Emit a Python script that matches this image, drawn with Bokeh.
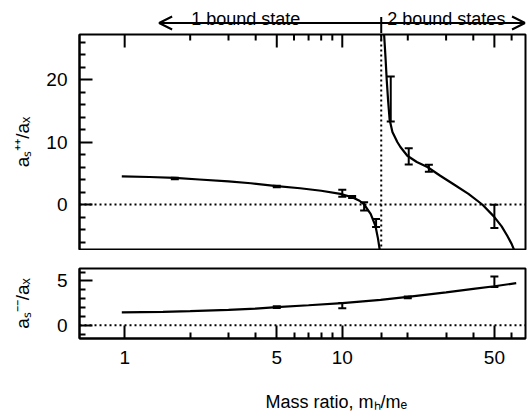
from bokeh.plotting import figure
from bokeh.models import (ColumnDataSource, Whisker, TeeHead, Span, Label, Arrow,
                          OpenHead, FixedTicker, Range1d)
from bokeh.layouts import column
from bokeh.embed import file_html
from bokeh.resources import INLINE

# ---------------- data ----------------
crit_ratio = 15.1   # mass ratio where the second bound state appears

# upper panel a_s^{++}/a_x : theory curve, two branches
pp_low_x = [0.97, 1.3, 1.7, 2.2, 3.0, 3.8, 5.0, 6.4, 8.0, 9.8, 11.1, 12.0, 12.6, 13.5, 14.2, 14.6, 14.9]
pp_low_y = [4.5, 4.4, 4.25, 4.0, 3.7, 3.4, 2.95, 2.6, 2.2, 1.7, 1.17, 0.6, 0.0, -1.5, -3.4, -5.5, -7.5]
pp_high_x = [15.55, 15.8, 16.0, 16.25, 16.5, 17.0, 17.9, 18.5, 19.9, 22.0, 24.6, 28.2, 32.6, 38.0, 44.0, 49.7, 54.0, 57.3, 60.0, 62.0]
pp_high_y = [27.5, 23.5, 20.0, 16.5, 13.6, 11.6, 10.0, 9.2, 7.8, 6.8, 6.0, 4.6, 3.2, 1.7, 0.0, -1.9, -3.5, -5.0, -6.3, -7.5]
# upper panel measured points with error bars
pp_x = [1.7, 5.0, 10.0, 11.1, 12.6, 14.3, 16.7, 20.2, 25.0, 50.0]
pp_y = [4.15, 2.9, 1.8, 1.2, -0.3, -2.95, 16.9, 7.7, 5.8, -1.9]
pp_err = [0.12, 0.12, 0.55, 0.15, 0.65, 0.65, 3.6, 1.3, 0.55, 1.85]

# lower panel a_s^{--}/a_x
mm_curve_x = [0.97, 1.5, 2.0, 3.0, 4.0, 5.0, 7.0, 10.0, 15.0, 20.0, 30.0, 40.0, 50.0, 63.0]
mm_curve_y = [1.45, 1.5, 1.58, 1.72, 1.88, 2.05, 2.25, 2.5, 2.85, 3.2, 3.7, 4.1, 4.4, 4.75]
mm_x = [5.0, 10.0, 20.0, 50.0]
mm_y = [2.05, 2.2, 3.15, 4.9]
mm_err = [0.1, 0.3, 0.1, 0.6]

x_major = [1, 5, 10, 50]
x_minor = [2, 3, 4, 6, 7, 8, 9, crit_ratio, 20, 30, 40, 60]
pp_major = [0, 10, 20]
pp_minor = [-6, -4, -2, 2, 4, 6, 8, 12, 14, 16, 18, 22, 24, 26]
mm_major = [0, 5]
mm_minor = [-1, 1, 2, 3, 4, 6]

# ---------------- styling / layout ----------------
FONT = "Liberation Sans"
XR = (0.62, 69.5)
W = 532
PP_YR = (-7.2, 27.2)
PP_PX_PER_UNIT = 215 / (PP_YR[1] - PP_YR[0])
MAJOR_LEN, MINOR_LEN = 13, 6

shared_x = Range1d(*XR)


def style(p):
    p.grid.visible = False
    p.outline_line_color = "black"
    p.outline_line_width = 2
    p.background_fill_color = "white"
    p.border_fill_color = "white"
    for ax in p.axis:
        ax.axis_line_width = 2
        ax.axis_line_color = "black"
        ax.major_tick_line_width = 2
        ax.minor_tick_line_width = 2
        ax.major_tick_line_color = "black"
        ax.minor_tick_line_color = "black"
        ax.major_tick_in = MAJOR_LEN
        ax.major_tick_out = 0
        ax.minor_tick_in = MINOR_LEN
        ax.minor_tick_out = 0
        ax.major_label_text_font = FONT
        ax.major_label_text_font_size = "19px"
        ax.major_label_text_color = "black"
        ax.major_label_standoff = 12
        ax.axis_label_text_font = FONT
        ax.axis_label_text_font_size = "19px"
        ax.axis_label_text_font_style = "normal"
        ax.axis_label_text_color = "black"


def strip(height):
    s = figure(width=W, height=height, x_axis_type="log", x_range=shared_x,
               y_range=Range1d(height, 0), x_axis_location=None, y_axis_location=None,
               output_backend="svg", toolbar_location=None,
               min_border_left=79, min_border_right=7, min_border_top=0, min_border_bottom=0)
    s.grid.visible = False
    s.outline_line_color = None
    s.background_fill_color = "white"
    s.border_fill_color = "white"
    return s


def errbars(p, xs, ys, es):
    src = ColumnDataSource(dict(x=xs, lo=[y - e for y, e in zip(ys, es)],
                                hi=[y + e for y, e in zip(ys, es)]))
    w = Whisker(source=src, base="x", lower="lo", upper="hi", line_width=2,
                line_color="black",
                lower_head=TeeHead(size=8, line_width=2, line_color="black"),
                upper_head=TeeHead(size=8, line_width=2, line_color="black"))
    p.add_layout(w)


# ---- annotation strip above the upper panel ----
p0 = strip(33)
arrow_y = 22.5
p0.add_layout(Arrow(end=OpenHead(size=13, line_width=2, line_color="black"),
                    x_start=crit_ratio, y_start=arrow_y, x_end=1.44, y_end=arrow_y,
                    line_width=2, line_color="black"))
p0.add_layout(Arrow(end=OpenHead(size=13, line_width=2, line_color="black"),
                    x_start=crit_ratio, y_start=arrow_y, x_end=XR[1] * 0.995, y_end=arrow_y,
                    line_width=2, line_color="black"))
p0.add_layout(Arrow(end=None, x_start=crit_ratio, y_start=16.5, x_end=crit_ratio, y_end=33,
                    line_width=2, line_color="black"))
p0.add_layout(Label(x=3.6, y=18.8, text="1 bound state", text_align="center",
                    text_baseline="alphabetic", text_font=FONT, text_font_size="18px",
                    text_color="black"))
p0.add_layout(Label(x=16.1, y=18.8, text="2 bound states", text_align="left",
                    text_baseline="alphabetic", text_font=FONT, text_font_size="18px",
                    text_color="black"))

# ---- upper panel ----
p1 = figure(width=W, height=217, x_axis_type="log", x_range=shared_x, y_range=Range1d(*PP_YR),
            x_axis_location=None, output_backend="svg", toolbar_location=None,
            min_border_left=79, min_border_right=7, min_border_top=1, min_border_bottom=1)
style(p1)
p1.yaxis.ticker = FixedTicker(ticks=pp_major, minor_ticks=pp_minor)
p1.yaxis.axis_label = "aₛ⁺⁺/aₓ"
p1.yaxis.axis_label_standoff = 10

# tick marks along the top edge (same ticks as the lower x axis)
top = PP_YR[1]
p1.segment(x0=x_major, y0=[top] * len(x_major), x1=x_major,
           y1=[top - MAJOR_LEN / PP_PX_PER_UNIT] * len(x_major), line_width=2, line_color="black")
p1.segment(x0=x_minor, y0=[top] * len(x_minor), x1=x_minor,
           y1=[top - MINOR_LEN / PP_PX_PER_UNIT] * len(x_minor), line_width=2, line_color="black")

p1.add_layout(Span(location=0, dimension="width", line_dash="2 3", line_width=2, line_color="black"))
p1.add_layout(Span(location=crit_ratio, dimension="height", line_dash="2 3", line_width=2, line_color="black"))
p1.line(pp_low_x, pp_low_y, line_width=2.2, line_color="black")
p1.line(pp_high_x, pp_high_y, line_width=2.2, line_color="black")
errbars(p1, pp_x, pp_y, pp_err)

# ---- lower panel ----
p2 = figure(width=W, height=128, x_axis_type="log", x_range=shared_x, y_range=Range1d(-1.5, 6.4),
            output_backend="svg", toolbar_location=None,
            min_border_left=79, min_border_right=7, min_border_top=18, min_border_bottom=40)
style(p2)
p2.xaxis.ticker = FixedTicker(ticks=x_major, minor_ticks=x_minor)
p2.yaxis.ticker = FixedTicker(ticks=mm_major, minor_ticks=mm_minor)
p2.yaxis.axis_label = "aₛ⁻⁻/aₓ"
p2.yaxis.axis_label_standoff = 21

p2.add_layout(Span(location=0, dimension="width", line_dash="2 3", line_width=2, line_color="black"))
p2.line(mm_curve_x, mm_curve_y, line_width=2.2, line_color="black")
errbars(p2, mm_x, mm_y, mm_err)

# ---- x-axis title strip ----
p3 = strip(37)
p3.add_layout(Label(x=9.4, y=23.7, text="Mass ratio, mₕ/mₑ", text_align="center",
                    text_baseline="alphabetic", text_font=FONT, text_font_size="18px",
                    text_color="black"))

layout = column(p0, p1, p2, p3, spacing=0)
open("out.html", "w").write(file_html(layout, INLINE))
